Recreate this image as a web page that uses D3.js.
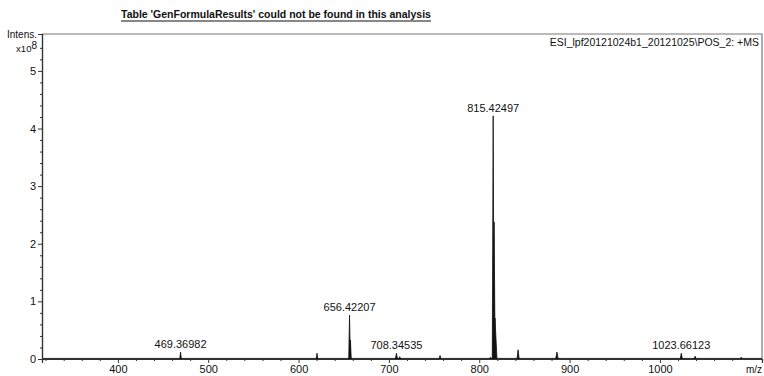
<!DOCTYPE html>
<html>
<head>
<meta charset="utf-8">
<script src="https://cdn.jsdelivr.net/npm/d3@7"></script>
<style>
  body { margin: 0; background: #fff; }
  svg { font-family: "Liberation Sans", Arial, sans-serif; }
</style>
</head>
<body>
<div id="chart"></div>
<script>
// Peaks (m/z, intensity x10^8, half width in m/z)
const peakMz = [469.37, 620.4, 656.42, 657.42, 708.35, 712.0, 756.6, 812.4, 815.42, 816.43, 817.43, 843.0, 886.0, 1023.66, 1039.0, 1090.0];
const peakInt = [0.12, 0.10, 0.76, 0.33, 0.10, 0.04, 0.06, 0.03, 4.22, 2.38, 0.71, 0.16, 0.12, 0.10, 0.05, 0.03];
const peakW = [0.9, 0.9, 0.9, 0.9, 1.2, 1.0, 1.0, 1.5, 1.0, 1.2, 2.2, 1.2, 1.4, 1.2, 1.0, 1.0];

// Labelled peaks
const labelMz = [469.36982, 656.42207, 708.34535, 815.42497, 1023.66123];
const labelInt = [0.12, 0.76, 0.10, 4.22, 0.10];

// Axis ticks
const xTicks = [400, 500, 600, 700, 800, 900, 1000];
const yTicks = [0, 1, 2, 3, 4, 5];

const title = "Table 'GenFormulaResults' could not be found in this analysis";
const traceName = "ESI_lpf20121024b1_20121025\\POS_2: +MS";

// Sizes
const W = 764, H = 376;
const margin = { top: 34, right: 2, bottom: 17, left: 42 };

const svg = d3.select("#chart").append("svg")
  .attr("width", W).attr("height", H);

const x = d3.scaleLinear().domain([316, 1113]).range([margin.left, W - margin.right]);
const y = d3.scaleLinear().domain([0, 5.64]).range([H - margin.bottom, margin.top]);

// Frame (top and right borders)
svg.append("path")
  .attr("d", `M${margin.left},${margin.top}H${W - margin.right}V${H - margin.bottom}`)
  .attr("fill", "none")
  .attr("stroke", "#777")
  .attr("stroke-width", 1.2);

// Baseline noise
svg.append("line")
  .attr("x1", x(316)).attr("x2", x(1113))
  .attr("y1", y(0.01)).attr("y2", y(0.01))
  .attr("stroke", "#222").attr("stroke-width", 1);

// Spectrum peaks as narrow triangles
const peaks = peakMz.map((m, i) => ({ mz: m, v: peakInt[i], w: peakW[i] }));
svg.selectAll(".peak")
  .data(peaks)
  .enter()
  .append("path")
  .attr("class", "peak")
  .attr("d", d => `M${x(d.mz - d.w)},${y(0)}L${x(d.mz)},${y(d.v)}L${x(d.mz + d.w)},${y(0)}Z`)
  .attr("fill", "#111")
  .attr("stroke", "#111")
  .attr("stroke-width", 0.8);

// Axes
const xAxis = d3.axisBottom(x).tickValues(xTicks).tickSize(4).tickPadding(2).tickFormat(d3.format("d"));
const xMinor = d3.axisBottom(x).tickValues(d3.range(320, 1113, 20).filter(v => v % 100 !== 0)).tickSize(2).tickFormat("");
const gx = svg.append("g").attr("transform", `translate(0,${H - margin.bottom})`);
gx.call(xAxis);
gx.append("g").call(xMinor);

const yAxis = d3.axisLeft(y).tickValues(yTicks).tickSize(4).tickPadding(2).tickFormat(d3.format("d"));
const yMinor = d3.axisLeft(y).tickValues(d3.range(0.2, 5.6, 0.2).filter(v => Math.abs(v - Math.round(v)) > 0.01)).tickSize(2).tickFormat("");
const gy = svg.append("g").attr("transform", `translate(${margin.left},0)`);
gy.call(yAxis);
gy.append("g").call(yMinor);

svg.selectAll(".domain").attr("stroke", "#333").attr("stroke-width", 1.2);
svg.selectAll(".tick line").attr("stroke", "#333");
svg.selectAll(".tick text").attr("font-size", 11).attr("fill", "#111");

// Peak labels
svg.selectAll(".plabel")
  .data(labelMz.map((m, i) => ({ mz: m, v: labelInt[i] })))
  .enter()
  .append("text")
  .attr("class", "plabel")
  .attr("x", d => x(d.mz))
  .attr("y", d => y(d.v) - 4)
  .attr("text-anchor", "middle")
  .attr("font-size", 11)
  .attr("fill", "#111")
  .text(d => d.mz.toFixed(5));

// Axis titles
svg.append("text")
  .attr("x", 37).attr("y", 38)
  .attr("text-anchor", "end")
  .attr("font-size", 10)
  .attr("fill", "#111")
  .text("Intens.");

const exp = svg.append("text")
  .attr("x", 37).attr("y", 52)
  .attr("text-anchor", "end")
  .attr("font-size", 9.5)
  .attr("fill", "#111");
exp.append("tspan").text("x10");
exp.append("tspan").attr("dy", -3).attr("font-size", 10).text("8");

svg.append("text")
  .attr("x", 762).attr("y", 373)
  .attr("text-anchor", "end")
  .attr("font-size", 10)
  .attr("fill", "#111")
  .text("m/z");

svg.append("text")
  .attr("x", 759).attr("y", 46)
  .attr("text-anchor", "end")
  .attr("font-size", 10.5)
  .attr("fill", "#111")
  .text(traceName);

// Title with underline
const t = svg.append("text")
  .attr("x", 276).attr("y", 18)
  .attr("text-anchor", "middle")
  .attr("font-size", 10.5)
  .attr("font-weight", "bold")
  .attr("fill", "#111")
  .text(title);
const tl = t.node().getComputedTextLength();
svg.append("line")
  .attr("x1", 276 - tl / 2).attr("x2", 276 + tl / 2)
  .attr("y1", 21).attr("y2", 21)
  .attr("stroke", "#111").attr("stroke-width", 1);
</script>
</body>
</html>
